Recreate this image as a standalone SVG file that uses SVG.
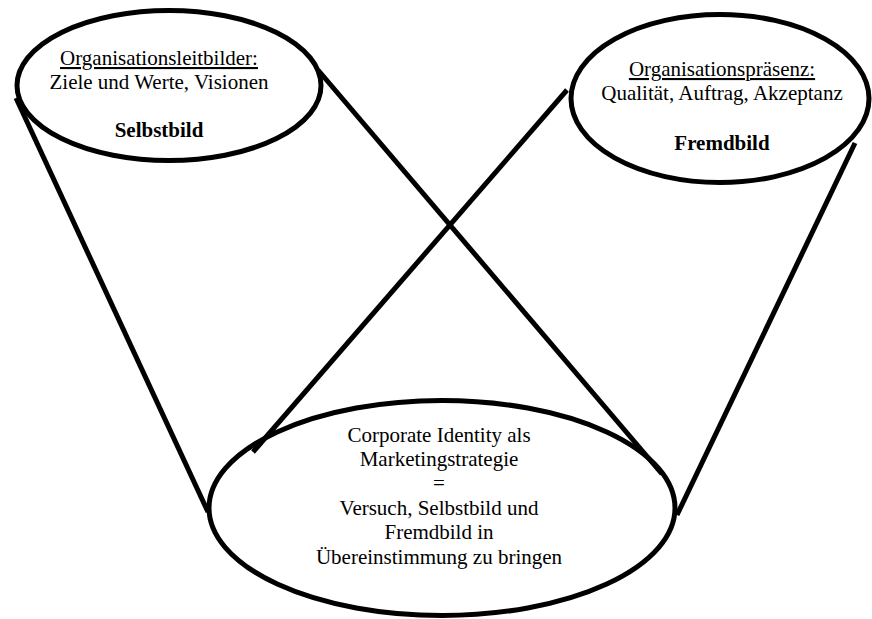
<svg xmlns="http://www.w3.org/2000/svg" width="872" height="619" viewBox="0 0 872 619">
<style>
.shape{fill:none;stroke:#000;stroke-width:5}
.con{fill:none;stroke:#000;stroke-width:5;stroke-linecap:butt}
.t{font-size:21px;fill:#000;text-anchor:middle}
.b{font-weight:bold}
.u{text-decoration:underline}
</style>
<rect width="872" height="619" fill="#fff"/>
<g id="connectors">
<line class="con" x1="16" y1="98" x2="208" y2="512"/>
<line class="con" x1="318" y1="70" x2="662" y2="474"/>
<line class="con" x1="567" y1="90" x2="253" y2="452"/>
<line class="con" x1="855" y1="143" x2="677" y2="515"/>
</g>
<g id="selbstbild" font-family="'Liberation Serif', 'Times New Roman', serif">
<ellipse class="shape" cx="169" cy="85.5" rx="152" ry="75"/>
<text class="t u" x="159" y="65">Organisationsleitbilder:</text>
<text class="t" x="159" y="88.5">Ziele und Werte, Visionen</text>
<text class="t b" x="159" y="136.5">Selbstbild</text>
</g>
<g id="fremdbild" font-family="'Liberation Serif', 'Times New Roman', serif">
<ellipse class="shape" cx="720" cy="98.5" rx="149" ry="84"/>
<text class="t u" x="722" y="76">Organisationspräsenz:</text>
<text class="t" x="722" y="100">Qualität, Auftrag, Akzeptanz</text>
<text class="t b" x="722" y="150">Fremdbild</text>
</g>
<g id="corporate-identity" font-family="'Liberation Serif', 'Times New Roman', serif">
<ellipse class="shape" cx="442" cy="508" rx="233" ry="107.5"/>
<text class="t" x="439" y="442">Corporate Identity als</text>
<text class="t" x="439" y="466">Marketingstrategie</text>
<text class="t" x="439" y="490">=</text>
<text class="t" x="439" y="515">Versuch, Selbstbild und</text>
<text class="t" x="439" y="539">Fremdbild in</text>
<text class="t" x="439" y="564">Übereinstimmung zu bringen</text>
</g>
</svg>
